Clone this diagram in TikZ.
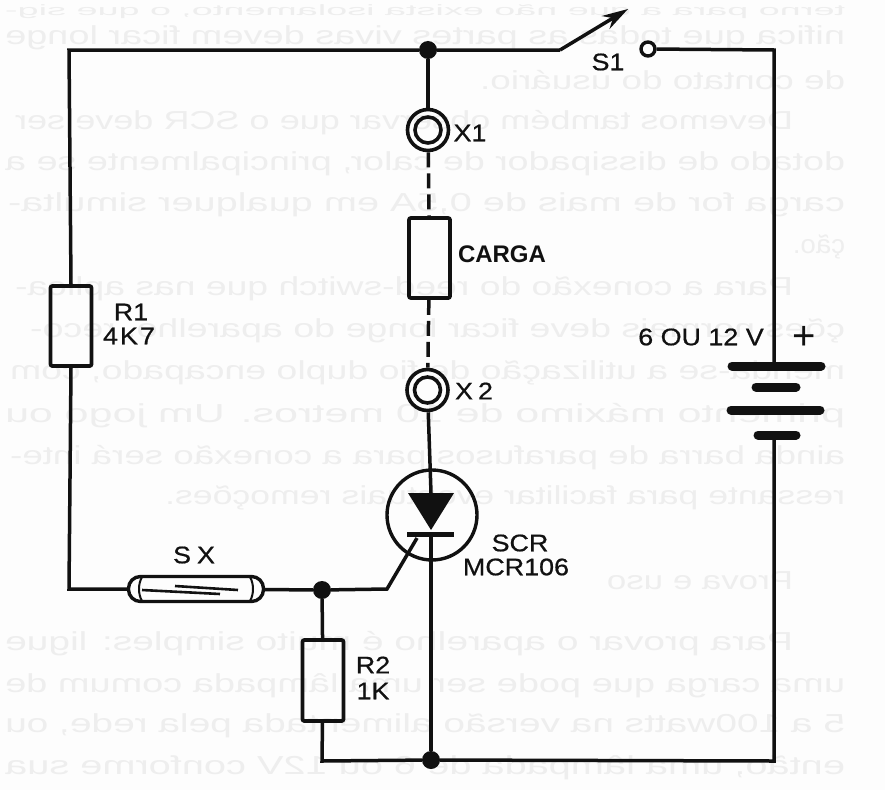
\documentclass[tikz,border=0pt]{standalone}
\usepackage{graphicx}
\usepackage{fontspec}
\setmainfont{Liberation Sans}
\newfontfamily\lblfont[FakeStretch=1.12,FakeBold=0.7]{Liberation Sans}
\usetikzlibrary{arrows.meta}
\definecolor{ink}{HTML}{111111}
\definecolor{paper}{HTML}{FDFDFD}
\definecolor{ghostgray}{HTML}{EEEEEE}
\tikzset{
  wire/.style={draw=ink,line width=3.5pt,line join=miter},
  dashwire/.style={wire,dash pattern=on 15pt off 6pt},
  comp/.style={draw=ink,line width=3.8pt,rounded corners=2pt,minimum width=41pt,inner sep=0pt},
  dot/.style={circle,fill=ink,inner sep=0pt,minimum size=18pt},
  ringout/.style={circle,draw=ink,line width=3.6pt,inner sep=0pt,minimum size=41pt},
  ringin/.style={circle,draw=ink,line width=3.6pt,inner sep=0pt,minimum size=26pt},
  plate/.style={draw=ink,line width=9pt,line cap=round},
  lbl/.style={text=ink,inner sep=0pt,font=\lblfont\fontsize{24}{24}\selectfont},
  lblb/.style={text=ink,inner sep=0pt,font=\bfseries\fontsize{24}{24}\selectfont},
  plustext/.style={text=ink,inner sep=0pt,font=\fontsize{40}{40}\selectfont},
  ghosttext/.style={text=ghostgray,inner sep=0pt,anchor=base,font=\fontsize{30}{30}\selectfont}
}
\newcommand\ghostline[5]{\node[ghosttext] (#1) at ({(#2+#3)/2},{#4+7}) {\reflectbox{\resizebox{\dimexpr#3pt-#2pt\relax}{26pt}{\rule{0pt}{1em}#5}}};}
\begin{document}
\begin{tikzpicture}[x=1pt,y=-1pt]
\useasboundingbox (0,0) rectangle (885,790);
\fill[paper] (0,0) rectangle (885,790);
% faint text showing through from the back of the page
\node[ghosttext] (g1) at (425,15) {\reflectbox{\resizebox{840pt}{15pt}{\rule{0pt}{1em}terno para a que não exista isolamento, o que sig-}}};
\ghostline{g2}{5}{845}{37}{nifica que todas as partes vivas devem ficar longe}
\ghostline{g3}{480}{845}{82}{de contato do usuário.}
\ghostline{g4}{15}{793}{122}{Devemos também observar que o SCR deve ser}
\ghostline{g5}{5}{845}{163}{dotado de dissipador de calor, principalmente se a}
\ghostline{g6}{8}{845}{204}{carga for de mais de 0,5A em qualquer simulta-}
\ghostline{g7}{793}{845}{246}{ção.}
\ghostline{g8}{15}{793}{288}{Para a conexão do reed-switch que nas aplica-}
\ghostline{g9}{30}{845}{330}{ções normais deve ficar longe do aparelho, reco-}
\ghostline{g10}{10}{845}{372}{menda-se a utilização de fio duplo encapado, com}
\ghostline{g11}{5}{845}{415}{primento máximo de 10 metros. Um jogo ou}
\ghostline{g12}{10}{845}{457}{ainda barra de parafusos para a conexão será inte-}
\ghostline{g13}{165}{845}{497}{ressante para facilitar eventuais remoções.}
\ghostline{g14}{607}{793}{582}{Prova e uso}
\ghostline{g15}{5}{793}{643}{Para provar o aparelho é muito simples: ligue}
\ghostline{g16}{5}{845}{685}{uma carga que pode ser uma lâmpada comum de}
\ghostline{g17}{5}{845}{725}{5 a 100watts na versão alimentada pela rede, ou}
\ghostline{g18}{5}{845}{767}{então, uma lâmpada de 6 ou 12V conforme sua}
% junctions
\node[dot] (jtop) at (428,50) {};
\node[dot] (jgate) at (322,590) {};
\node[dot] (jbot) at (431,760) {};
% corners and free ends
\coordinate (tl) at (69,50);
\coordinate (bl) at (69,589);
\coordinate (tr) at (774,50);
\coordinate (br) at (774,761);
\coordinate (r2b) at (322,761);
\coordinate (swa) at (560,50);
\coordinate (swb) at (628,9);
\coordinate (gk) at (387,589);
\coordinate (gg) at (417,538);
\coordinate (an) at (431,493);
\coordinate (ca) at (431,534);
\coordinate (bt) at (774,366);
\coordinate (bb) at (774,435);
% components
\node[comp,minimum height=80pt] (r1) at (71,326) {};
\node[comp,minimum height=81pt] (r2) at (323,680.5) {};
\node[comp,minimum height=80pt] (carga) at (429.5,258) {};
\node[ringout] (x1) at (428,130) {};
\node[ringin] (x1i) at (428,130) {};
\node[ringout] (x2) at (427.5,390) {};
\node[ringin] (x2i) at (427.5,390) {};
\node[circle,draw=ink,line width=3.4pt,inner sep=0pt,minimum size=90pt] (scr) at (432,515) {};
\node[circle,draw=ink,line width=3.4pt,inner sep=0pt,minimum size=14pt] (s1c) at (648,49) {};
\node[draw=ink,line width=3.4pt,rounded corners=12pt,minimum width=135pt,minimum height=25pt,inner sep=0pt] (sx) at (196,589) {};
% reed switch details
\draw[draw=ink,line width=2pt] (142,577) .. controls (138,584) and (138,594) .. (142,601);
\draw[draw=ink,line width=2pt] (250,577) .. controls (254,584) and (254,594) .. (250,601);
\draw[draw=ink,line width=2.6pt] (142,590) -- (220,594);
\draw[draw=ink,line width=2.6pt] (175,586) -- (238,590);
% wires
\draw[wire] (r1.north) -- (tl) -- (jtop) -- (swa);
\draw[wire,-{Stealth[length=26pt,width=15pt]}] (swa) -- (swb);
\draw[wire] (s1c) -- (tr) -- (bt);
\draw[wire] (jtop) -- (x1);
\draw[dashwire] (x1) -- (carga);
\draw[dashwire] (carga) -- (x2);
\draw[wire] (x2) -- (an);
\draw[wire] (ca) -- (jbot);
\draw[wire] (r1.south) -- (bl) -- (sx);
\draw[wire] (sx) -- (jgate) -- (gk) -- (gg);
\draw[wire] (jgate) -- (r2);
\draw[wire] (r2) -- (r2b) -- (jbot) -- (br) -- (bb);
% SCR symbol
\fill[ink] (408,493) -- (454,493) -- (431,530) -- cycle;
\draw[draw=ink,line width=5pt] (407,534) -- (454,534);
% battery
\draw[plate] (732,366) -- (bt) -- (821,366);
\draw[plate] (756,387) -- (796,387);
\draw[plate] (731,410) -- (820,410);
\draw[plate] (758,435) -- (bb) -- (796,435);
% labels
\node[lbl] (ls1) at (608,62) {S1};
\node[lbl] (lx1) at (470,133) {X1};
\node[lblb] (lcarga) at (502,254) {CARGA};
\node[lbl] (lr1) at (131,312) {R1};
\node[lbl] (lr1v) at (129,336) {4\kern2pt K\kern2pt 7};
\node[lbl] (lx2) at (474,391) {X\kern5pt 2};
\node[lbl] (lscr) at (520,543) {SCR};
\node[lbl] (lmcr) at (516,567) {MCR106};
\node[lbl] (lsx) at (194,555) {S\kern6pt X};
\node[lbl] (lr2) at (373,665) {R2};
\node[lbl] (lr2v) at (373,691) {1K};
\node[lbl] (lbat) at (701,337) {6 OU 12 V};
\node[plustext] (lplus) at (804,338) {+};
\end{tikzpicture}
\end{document}
